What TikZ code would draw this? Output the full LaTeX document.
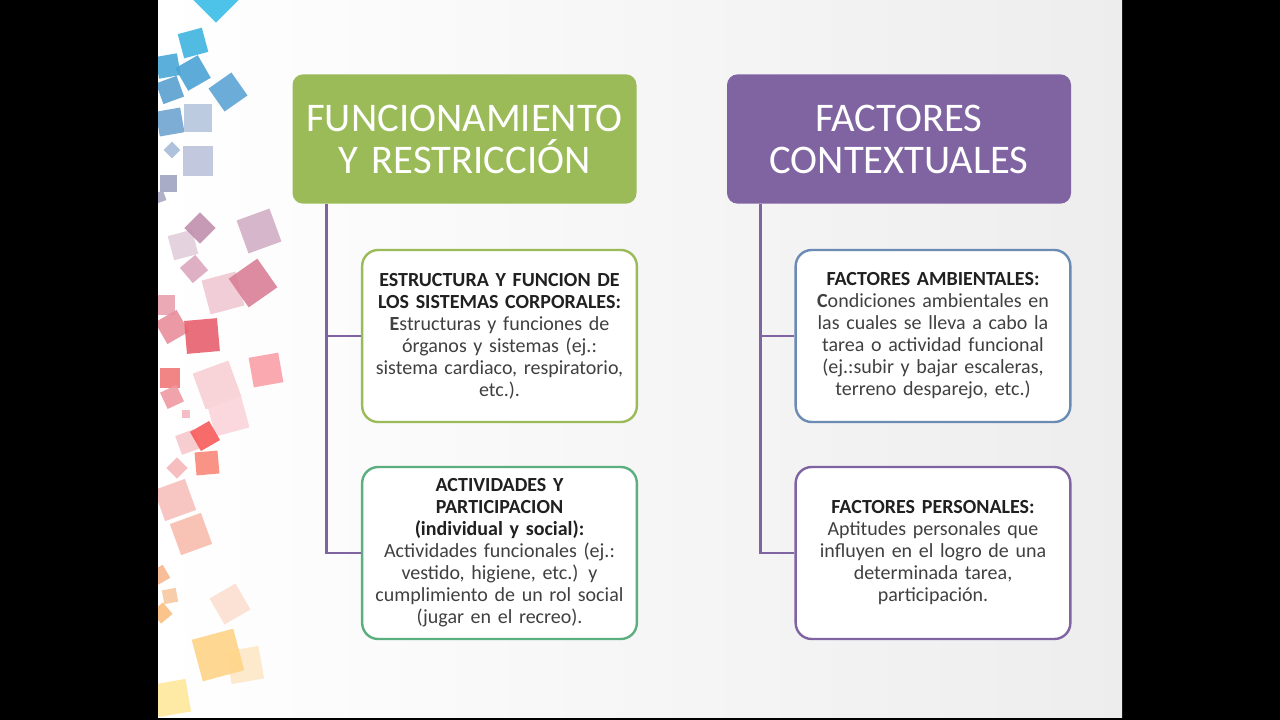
\documentclass[tikz,border=0pt]{standalone}
\usepackage{fontspec}
\setmainfont{Carlito}
\definecolor{titlegreen}{HTML}{9BBB59}
\definecolor{titlepurple}{HTML}{8064A2}
\definecolor{boxgreen}{HTML}{9BBB59}
\definecolor{boxteal}{HTML}{5BAF7F}
\definecolor{boxblue}{HTML}{6A8BB3}
\definecolor{boxpurple}{HTML}{8064A2}
\definecolor{textgray}{HTML}{404040}
\definecolor{headgray}{HTML}{202020}

\begin{document}
\begin{tikzpicture}[x=0.75pt,y=-0.75pt,
	titlebox/.style={rounded corners=8pt, minimum width=258pt, minimum height=97pt,
		text width=254pt, align=center, text=white, inner sep=2pt,
		font=\fontsize{30.5}{31.5}\selectfont},
	infobox/.style={draw, line width=1.8pt, fill=white, rounded corners=12pt,
		minimum width=206pt, minimum height=129pt, text width=204pt, inner sep=1pt,
		align=center, text=textgray, font=\fontsize{15}{16.5}\selectfont},
	conn/.style={draw=boxpurple, line width=2.2pt}]
	\useasboundingbox (0,0) rectangle (1280,720);

	% Draw slide
	\fill[black] (0,0) rectangle (1280,720);
	\shade[left color=white, right color=gray!14] (158,0) rectangle (1122,717);

	% Decorative squares
	\begin{scope}
	\clip (158,0) rectangle (1122,717);
	\foreach \cx/\cy/\s/\a/\c in {216/0/32/45/3BBDE8, 193/43/25/15/40B4E0, 168/66/22/10/4AA8D8,
		193/73/26/30/4BA3D5, 228/92/28/35/5CA4D4, 170/90/22/20/5AA0D0, 170/122/25/10/6FA3D0,
		198/118/28/0/B6C6DE, 172/150/12/45/A8BCD8, 198/161/30/0/BCC4DC, 168/184/17/0/9FA3C0,
		160/197/10/20/A8A8C4, 183/245/25/15/E2CFDC, 200/228/22/45/C08FAE, 259/231/35/20/D2AFC6,
		194/269/20/40/DCA8BE, 223/293/35/15/F0C8D4, 253/283/35/35/DA7F96, 165/305/20/0/E8A0AC,
		172/327/25/30/E88E9C, 202/336/33/5/E8606E, 170/378/20/0/F07878, 266/370/30/10/FBA0A8,
		217/385/38/20/F8D0D6, 228/415/35/15/FAD4DA, 172/397/18/25/F09AA4, 186/414/8/0/F4B8C0,
		188/442/20/20/F8C8CC, 205/436/22/30/F85C5C, 207/463/23/5/F88878, 177/468/15/45/F6B8B8,
		175/500/33/20/F8C0BC, 191/534/33/20/F8BCAE, 160/575/15/30/F8B890, 170/596/14/10/F8C8A0,
		162/613/15/40/FBBE80, 230/604/30/30/FBE0D0, 245/665/33/10/FDE8C8, 218/655/43/15/FFD488,
		172/698/33/10/FFE89C}
	{
		\definecolor{sq}{HTML}{\c}
		\fill[sq, opacity=0.9, rotate around={\a:(\cx,\cy)}] ({\cx-\s/2},{\cy-\s/2}) rectangle ({\cx+\s/2},{\cy+\s/2});
	}
	\end{scope}

	% Title boxes
	\node[titlebox, fill=titlegreen] (func) at (464.5,139) {FUNCIONAMIENTO\\Y RESTRICCIÓN};
	\node[titlebox, fill=titlepurple] (fact) at (899,139) {FACTORES\\CONTEXTUALES};

	% Left column
	\node[infobox, draw=boxgreen] (estr) at (499.5,336) {{\color{headgray}\bfseries ESTRUCTURA Y FUNCION DE\\LOS SISTEMAS CORPORALES:}\\\textbf{E}structuras y funciones de\\órganos y sistemas (ej.:\\sistema cardiaco, respiratorio,\\etc.).};
	\node[infobox, draw=boxteal] (activ) at (499.5,553) {{\color{headgray}\bfseries ACTIVIDADES Y\\PARTICIPACION\\(individual y social):}\\Actividades funcionales (ej.:\\vestido, higiene, etc.) y\\cumplimiento de un rol social\\(jugar en el recreo).};

	% Right column
	\node[infobox, draw=boxblue] (amb) at (933,336) {{\color{headgray}\bfseries FACTORES AMBIENTALES:}\\\textbf{C}ondiciones ambientales en\\las cuales se lleva a cabo la\\tarea o actividad funcional\\(ej.:subir y bajar escaleras,\\terreno desparejo, etc.)};
	\node[infobox, draw=boxpurple] (pers) at (933,553) {{\color{headgray}\bfseries FACTORES PERSONALES:}\\Aptitudes personales que\\influyen en el logro de una\\determinada tarea,\\participación.};

	% Connectors
	\draw[conn] ([xshift=26pt]func.south west) |- (estr.west);
	\draw[conn] ([xshift=26pt]func.south west) |- (activ.west);
	\draw[conn] ([xshift=25pt]fact.south west) |- (amb.west);
	\draw[conn] ([xshift=25pt]fact.south west) |- (pers.west);

\end{tikzpicture}
\end{document}
